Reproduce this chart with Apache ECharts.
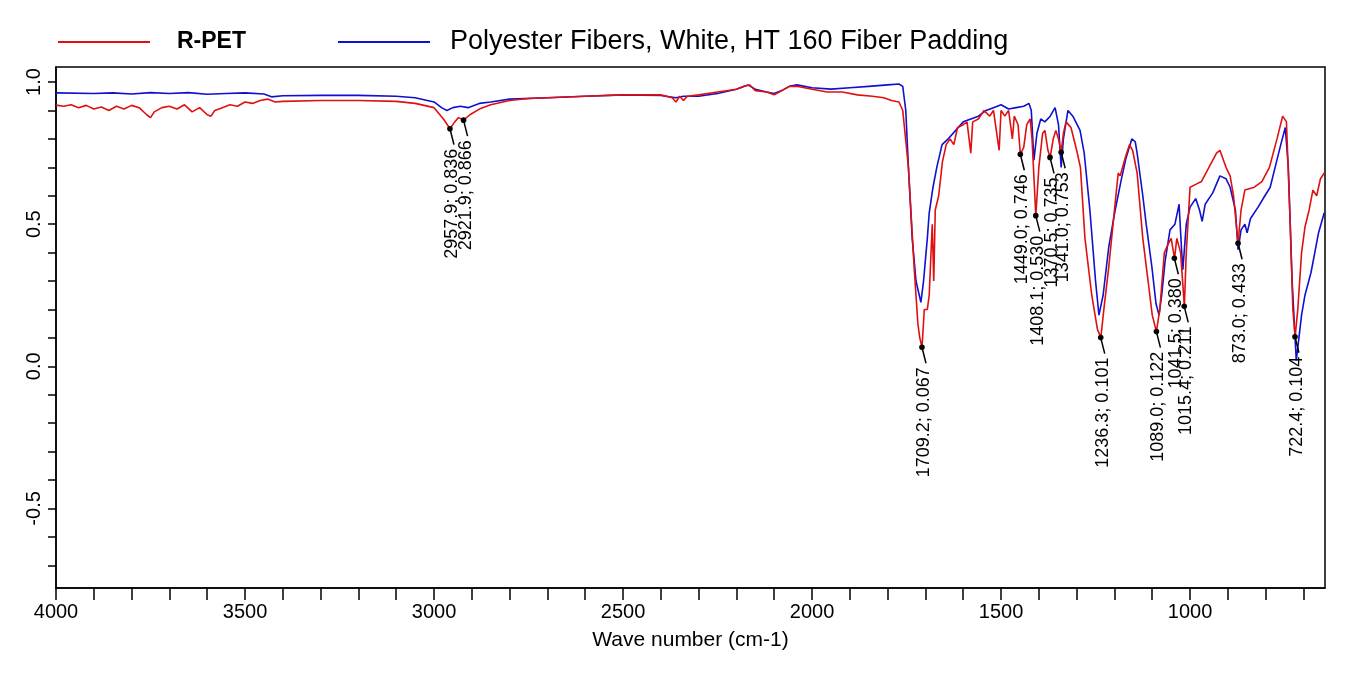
<!DOCTYPE html>
<html><head><meta charset="utf-8">
<script src="https://cdn.jsdelivr.net/npm/echarts@6/dist/echarts.min.js"></script>
<style>html,body{margin:0;padding:0;background:#fff}#c{width:1355px;height:676px}</style>
</head><body><div id="c"></div>
<script>
const waveR=[4000,3980,3960,3940,3920,3900,3880,3860,3840,3820,3800,3780,3760,3750,3740,3720,3700,3680,3660,3640,3620,3600,3590,3580,3560,3540,3520,3500,3480,3460,3440,3420,3400,3300,3200,3100,3050,3000,2975,2958,2945,2935,2922,2905,2880,2850,2800,2750,2700,2600,2500,2400,2370,2360,2350,2340,2330,2300,2250,2200,2180,2165,2150,2120,2100,2080,2060,2040,2000,1960,1920,1880,1840,1810,1790,1770,1760,1745,1730,1720,1715,1709,1703,1695,1690,1682,1678,1674,1665,1655,1645,1635,1625,1615,1600,1590,1580,1575,1560,1545,1530,1520,1505,1500,1490,1480,1470,1465,1455,1449,1440,1432,1423,1418,1408,1400,1390,1384,1376,1370,1362,1355,1348,1341,1335,1328,1315,1300,1290,1278,1260,1245,1236,1228,1215,1200,1190,1185,1170,1160,1152,1140,1125,1111,1100,1089,1080,1068,1058,1050,1041,1035,1025,1015,1010,1000,985,970,950,930,921,905,894,885,873,865,855,830,810,790,770,755,745,735,728,722,715,705,696,685,675,665,655,645];
const valR=[.919,.915,.92,.91,.918,.905,.912,.90,.915,.905,.918,.91,.885,.875,.895,.91,.915,.905,.92,.895,.91,.885,.88,.9,.91,.92,.915,.93,.925,.935,.94,.93,.932,.935,.935,.932,.925,.91,.87,.836,.86,.875,.866,.885,.905,.92,.935,.942,.945,.95,.955,.955,.945,.93,.95,.935,.95,.955,.965,.975,.985,.99,.97,.965,.955,.97,.985,.985,.975,.965,.965,.955,.95,.945,.935,.93,.9,.7,.35,.15,.1,.067,.2,.2,.25,.5,.3,.55,.6,.72,.78,.8,.78,.84,.85,.86,.75,.86,.87,.9,.88,.9,.76,.9,.88,.9,.8,.88,.85,.746,.77,.85,.87,.8,.53,.7,.82,.83,.76,.735,.8,.83,.8,.753,.82,.86,.84,.76,.7,.45,.25,.13,.101,.2,.35,.55,.68,.67,.74,.78,.76,.68,.45,.3,.18,.122,.2,.4,.43,.45,.38,.45,.4,.211,.4,.63,.64,.65,.7,.75,.76,.7,.67,.6,.433,.55,.62,.63,.65,.7,.8,.88,.86,.5,.2,.104,.2,.4,.49,.55,.62,.6,.66,.68];
const waveB=[4000,3900,3850,3800,3750,3700,3650,3600,3550,3500,3450,3430,3400,3300,3200,3100,3050,3000,2980,2966,2950,2930,2910,2880,2850,2800,2700,2600,2500,2400,2360,2340,2300,2250,2200,2170,2150,2120,2100,2080,2060,2040,2000,1950,1900,1850,1800,1770,1760,1752,1745,1735,1725,1712,1705,1695,1690,1680,1670,1656,1640,1620,1600,1580,1560,1540,1520,1500,1480,1460,1440,1426,1420,1413,1405,1395,1384,1370,1357,1348,1341,1335,1323,1310,1291,1280,1265,1250,1241,1230,1215,1198,1183,1170,1154,1145,1140,1125,1116,1101,1090,1082,1075,1066,1053,1040,1029,1022,1019,1010,1000,985,975,968,960,940,921,905,894,880,873,865,855,849,840,820,802,788,775,760,748,740,730,719,712,705,696,680,670,660,645];
const valB=[.962,.96,.962,.958,.963,.96,.963,.957,.96,.962,.958,.948,.952,.953,.953,.95,.945,.93,.91,.90,.91,.915,.91,.925,.93,.94,.945,.95,.955,.953,.945,.95,.95,.96,.975,.99,.975,.965,.96,.97,.985,.99,.98,.975,.98,.985,.99,.993,.985,.9,.7,.45,.3,.225,.3,.45,.54,.63,.7,.78,.8,.83,.86,.87,.88,.9,.91,.92,.905,.91,.915,.925,.9,.725,.82,.87,.86,.88,.91,.85,.70,.8,.90,.88,.83,.75,.55,.3,.18,.25,.42,.55,.65,.73,.80,.79,.75,.6,.5,.35,.22,.18,.25,.37,.48,.5,.57,.4,.34,.5,.56,.59,.55,.51,.57,.61,.67,.66,.63,.55,.41,.48,.5,.47,.52,.56,.6,.63,.7,.78,.84,.7,.3,.02,.1,.18,.25,.33,.40,.47,.54];
const annW=[2957.9,2921.9,1709.2,1449.0,1408.1,1370.5,1341.0,1236.3,1089.0,1041.5,1015.4,873.0,722.4];
const annV=[0.836,0.866,0.067,0.746,0.530,0.735,0.753,0.101,0.122,0.380,0.211,0.433,0.104];
const xTicks=[];for(let v=700;v<=4000;v+=100)xTicks.push(v);
const xLabels=[1000,1500,2000,2500,3000,3500,4000];
const yTicks=[];for(let v=-7;v<=10;v++)yTicks.push(v/10);
const yLabels=[-0.5,0,0.5,1.0];
const zip=(a,b)=>a.map((w,i)=>[w,b[i]]);
const chart=echarts.init(document.getElementById('c'));
const F='Liberation Sans, Arial, sans-serif';
chart.setOption({
 animation:false,
 grid:{left:56,right:30,top:67,bottom:88,show:true,borderColor:'#000',borderWidth:1.5,backgroundColor:'transparent'},
 xAxis:{type:'value',inverse:true,min:643,max:4000,
  axisLine:{onZero:false,lineStyle:{color:'#000',width:1.5}},
  axisTick:{customValues:xTicks,length:12,inside:false,lineStyle:{color:'#000',width:1.5}},
  axisLabel:{customValues:xLabels,color:'#000',fontSize:20,fontFamily:F,margin:14,formatter:v=>String(v)},
  splitLine:{show:false},
  name:'Wave number (cm-1)',nameLocation:'middle',nameGap:42,nameTextStyle:{color:'#000',fontSize:21,fontFamily:F}},
 yAxis:{type:'value',min:-0.78,max:1.053,
  axisLine:{onZero:false,lineStyle:{color:'#000',width:1.5}},
  axisTick:{customValues:yTicks,length:8,lineStyle:{color:'#000',width:1.5}},
  axisLabel:{customValues:yLabels,rotate:90,color:'#000',fontSize:20,fontFamily:F,margin:12,formatter:v=>v.toFixed(1)},
  splitLine:{show:false}},
 series:[
  {type:'line',data:zip(waveB,valB),symbol:'none',lineStyle:{color:'#1010d0',width:1.6},z:2},
  {type:'line',data:zip(waveR,valR),symbol:'none',lineStyle:{color:'#e01010',width:1.6},z:3},
  {type:'custom',z:5,data:zip(annW,annV),renderItem:(p,api)=>{
    const w=api.value(0),v=api.value(1);const pt=api.coord([w,v]);
    const ex=pt[0]+4,ey=pt[1]+16;
    return {type:'group',children:[
     {type:'line',shape:{x1:pt[0],y1:pt[1],x2:ex,y2:ey},style:{stroke:'#000',lineWidth:1.5}},
     {type:'circle',shape:{cx:pt[0],cy:pt[1],r:2.8},style:{fill:'#000'}},
     {type:'text',x:ex-2,y:ey+4,rotation:Math.PI/2,style:{text:w.toFixed(1)+'; '+v.toFixed(3),fill:'#000',font:'18px '+F,align:'right',verticalAlign:'middle'}}
    ]};
  }}
 ],
 graphic:[
  {type:'line',shape:{x1:58,y1:42,x2:150,y2:42},style:{stroke:'#e01010',lineWidth:2}},
  {type:'text',x:177,y:42,style:{text:'R-PET',fill:'#000',font:'bold 23px '+F,verticalAlign:'middle'}},
  {type:'line',shape:{x1:338,y1:42,x2:430,y2:42},style:{stroke:'#1010d0',lineWidth:2}},
  {type:'text',x:450,y:42,style:{text:'Polyester Fibers, White, HT 160 Fiber Padding',fill:'#000',font:'27px '+F,verticalAlign:'middle'}}
 ]
});
</script></body></html>
